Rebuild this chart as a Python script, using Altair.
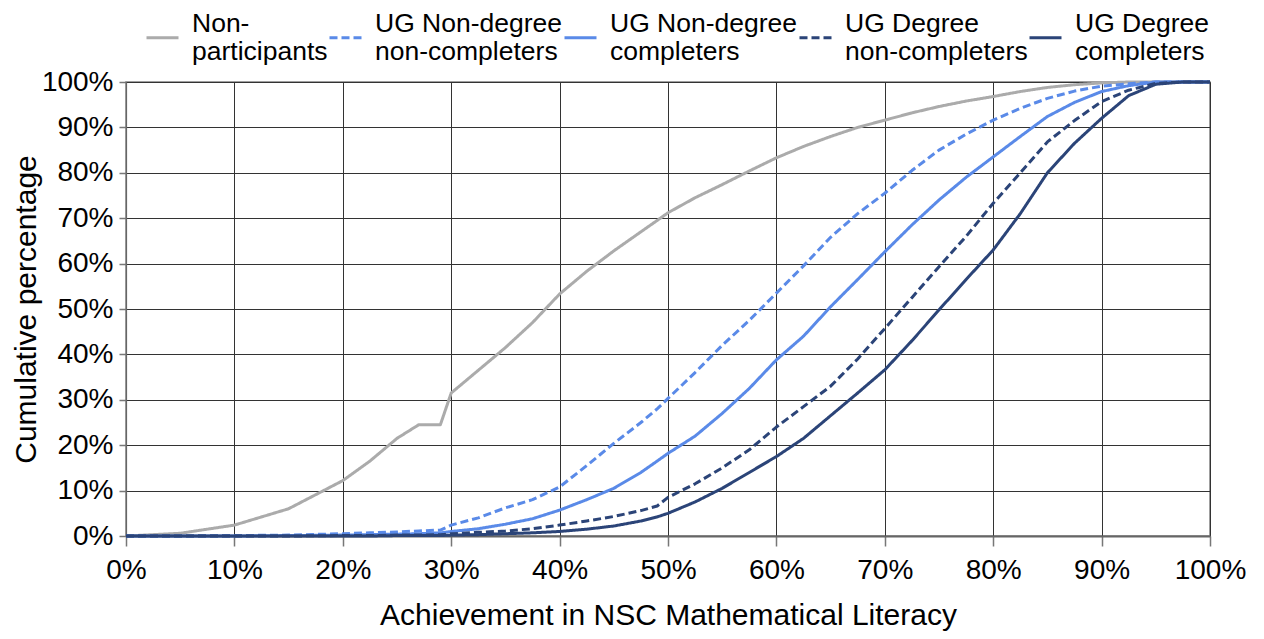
import altair as alt
import pandas as pd

achievement = [0, 5, 10, 15, 20, 22.5, 25, 27, 29, 30, 32.5, 35, 37.5, 40, 42.5, 45, 47.5, 49, 50,
               52.5, 55, 57.5, 60, 62.5, 65, 67.5, 70, 72.5, 75, 77.5, 80, 82.5, 85, 87.5, 90,
               92.5, 95, 97.5, 100]

non_participants = [0, 0.6, 2.4, 6, 12.2, 16.5, 21.5, 24.5, 24.5, 31.5, 36.5, 41.5, 47, 53.3, 58.3,
                    62.8, 67, 69.5, 71.2, 74.5, 77.4, 80.4, 83.3, 85.8, 88, 90, 91.6, 93.2, 94.6,
                    95.8, 96.8, 97.9, 98.8, 99.4, 99.8, 100, 100, 100, 100]
ug_nd_noncomp = [0, 0, 0.1, 0.2, 0.5, 0.7, 0.9, 1.1, 1.3, 2.4, 4, 6.2, 8, 10.8, 15.5, 20.4, 25, 28,
                 30.3, 36, 42, 47.5, 53.5, 59.5, 65.8, 71, 75.5, 80.5, 85, 88.5, 91.6, 94.2, 96.4,
                 98, 99.1, 99.6, 100, 100, 100]
ug_nd_comp = [0, 0, 0, 0.1, 0.2, 0.3, 0.4, 0.5, 0.7, 1.0, 1.6, 2.6, 3.8, 5.7, 8, 10.5, 14, 16.5, 18.2,
              22, 27, 32.5, 38.8, 44, 50.5, 56.5, 62.6, 68.5, 74, 79, 83.5, 88, 92.4, 95.5, 97.9,
              99.2, 100, 100, 100]
ug_d_noncomp = [0, 0, 0, 0, 0.1, 0.1, 0.2, 0.2, 0.3, 0.5, 0.8, 1.1, 1.6, 2.4, 3.3, 4.3, 5.6, 6.6,
                8.5, 11.5, 15, 19, 24, 28.5, 33, 39, 45.7, 52.5, 59.3, 66, 73.3, 80, 86.8, 91.5,
                95.7, 98.2, 99.7, 100, 100]
ug_d_comp = [0, 0, 0, 0, 0, 0, 0.1, 0.1, 0.1, 0.2, 0.3, 0.5, 0.7, 1.0, 1.5, 2.2, 3.3, 4.2, 5, 7.5,
             10.5, 14, 17.5, 21.5, 26.5, 31.5, 36.6, 43, 49.8, 56.5, 63, 71, 80, 86.5, 92, 97,
             99.5, 100, 100]

series_names = ["Non-|participants", "UG Non-degree|non-completers", "UG Non-degree|completers",
                "UG Degree|non-completers", "UG Degree|completers"]
series_values = [non_participants, ug_nd_noncomp, ug_nd_comp, ug_d_noncomp, ug_d_comp]
colors = ["#ABABAB", "#5A8AE8", "#5A8AE8", "#2B4478", "#2B4478"]
dashes = [[1, 0], [8, 4], [1, 0], [8, 4], [1, 0]]
widths = [3, 3, 3, 3, 1.6]
x_ticks = [0, 10, 20, 30, 40, 50, 60, 70, 80, 90, 100]
y_ticks = [0, 10, 20, 30, 40, 50, 60, 70, 80, 90, 100]

rows = []
for name, vals in zip(series_names, series_values):
    for i, (x, y) in enumerate(zip(achievement, vals)):
        rows.append({"series": name, "x": x, "y": y, "order": i})
df = pd.DataFrame(rows)

FONT = "Liberation Sans"
LEG = dict(title=None, labelExpr="split(datum.label, '|')")

chart = alt.Chart(df).mark_line(strokeJoin="round", strokeCap="butt").encode(
    x=alt.X("x:Q", scale=alt.Scale(domain=[0, 100], nice=False),
            axis=alt.Axis(values=x_ticks, labelExpr="datum.value + '%'", labelFlush=False,
                          title="Achievement in NSC Mathematical Literacy")),
    y=alt.Y("y:Q", scale=alt.Scale(domain=[0, 100], nice=False),
            axis=alt.Axis(values=y_ticks, labelExpr="datum.value + '%'", labelFlush=False,
                          title="Cumulative percentage")),
    color=alt.Color("series:N", scale=alt.Scale(domain=series_names, range=colors),
                    legend=alt.Legend(**LEG)),
    strokeDash=alt.StrokeDash("series:N", scale=alt.Scale(domain=series_names, range=dashes),
                              legend=alt.Legend(**LEG)),
    strokeWidth=alt.StrokeWidth("series:N", scale=alt.Scale(domain=series_names, range=widths),
                                legend=alt.Legend(**LEG)),
    order="order:Q",
).properties(
    width=1084, height=454,
    autosize=alt.AutoSizeParams(type="none"),
    padding={"left": 118, "top": 74, "right": 40, "bottom": 95},
).configure_view(
    stroke="#808080", strokeWidth=1.5
).configure_axis(
    labelFont=FONT, titleFont=FONT, labelFontSize=28, titleFontSize=30,
    titleFontWeight="normal", labelColor="#000", titleColor="#000",
    grid=True, gridColor="#333333", gridWidth=1, gridOpacity=1,
    domainColor="#666666", tickColor="#777777", tickWidth=1.5,
).configure_axisX(
    tickSize=10, labelPadding=10, titlePadding=16, domainWidth=2
).configure_axisY(
    tickSize=7, labelPadding=6, titlePadding=0, domainWidth=1.2, titleFontSize=30
).configure_legend(
    orient="none", legendX=19, legendY=-62, direction="horizontal",
    symbolType="stroke", symbolSize=1024, labelFont=FONT, labelFontSize=26.5,
    labelLimit=400, labelOffset=12, columnPadding=-6, labelBaseline="bottom",
    labelColor="#000",
)

chart.save("out.html", embed_options={"renderer": "svg", "actions": False})
